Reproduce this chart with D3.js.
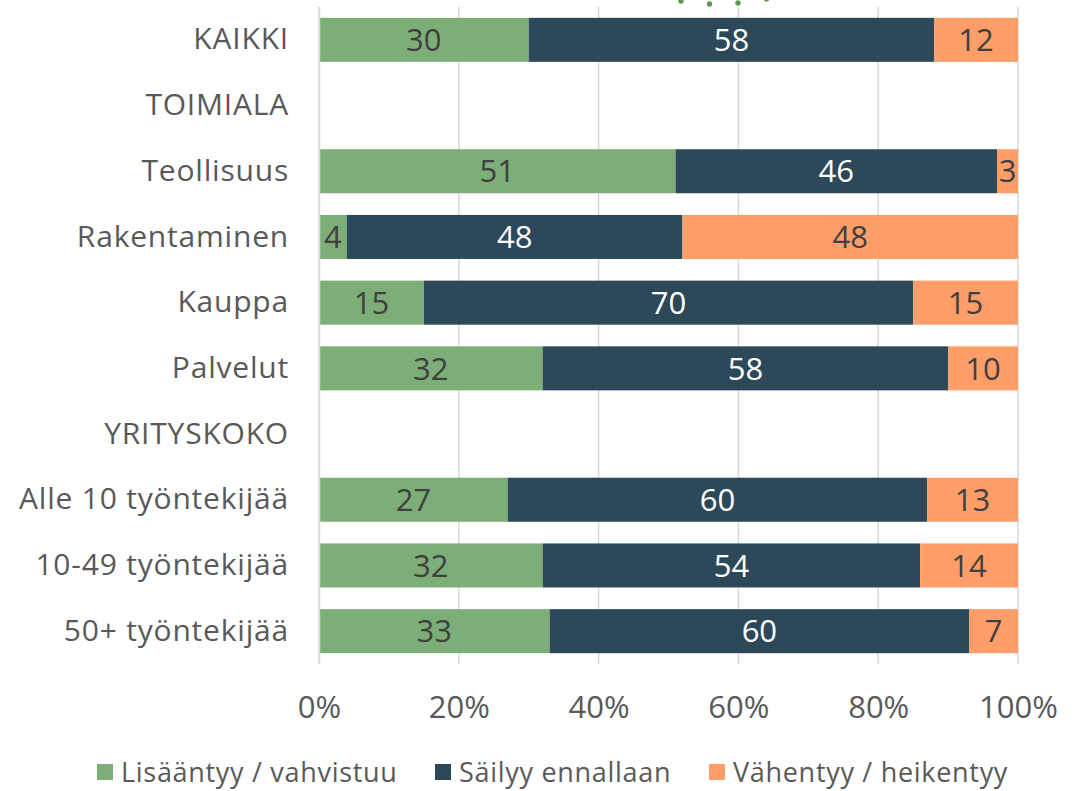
<!DOCTYPE html>
<html>
<head>
<meta charset="utf-8">
<script src="https://cdn.jsdelivr.net/npm/d3@7"></script>
<style>
  body { margin: 0; background: #fff; }
  svg text { font-family: "Open Sans", "Noto Sans", sans-serif; }
</style>
</head>
<body>
<script>
// Data
const categories = ["KAIKKI", "TOIMIALA", "Teollisuus", "Rakentaminen", "Kauppa", "Palvelut",
    "YRITYSKOKO", "Alle 10 työntekijää", "10-49 työntekijää", "50+ työntekijää"];
const seriesNames = ["Lisääntyy / vahvistuu", "Säilyy ennallaan", "Vähentyy / heikentyy"];
const increase = [30, null, 51, 4, 15, 32, null, 27, 32, 33];
const same     = [58, null, 46, 48, 70, 58, null, 60, 54, 60];
const decrease = [12, null, 3, 48, 15, 10, null, 13, 14, 7];
const tickValues = [0, 20, 40, 60, 80, 100];

(function () {
    const W = 1091, H = 791;
    const colors = ["#7dae77", "#2c4859", "#ff9e68"];
    const labelColors = ["#404040", "#ffffff", "#404040"];

    const svg = d3.select("body").append("svg")
        .attr("width", W)
        .attr("height", H);

    const x = d3.scaleLinear().domain([0, 100]).range([319, 1018]);
    const y = d3.scaleBand().domain(categories).range([7, 664]).paddingInner(0.33).paddingOuter(0.165);

    // gridlines
    svg.append("g")
        .selectAll("line")
        .data(tickValues)
        .join("line")
        .attr("x1", d => x(d)).attr("x2", d => x(d))
        .attr("y1", 7).attr("y2", 664)
        .attr("stroke", "#d9d9d9")
        .attr("stroke-width", 1.5);

    // decorative dots at top (cropped artifact in the source)
    svg.append("g")
        .selectAll("circle")
        .data([0, 1, 2, 3])
        .join("circle")
        .attr("cx", d => 681 + d * 28.5)
        .attr("cy", (d, i) => [1, 4, 3, -1][i])
        .attr("r", 2.7)
        .attr("fill", "#5a9a4e");

    // stack the data
    const rows = categories.map((c, i) => ({
        cat: c, s0: increase[i], s1: same[i], s2: decrease[i]
    })).filter(d => d.s0 !== null);
    const stack = d3.stack().keys(["s0", "s1", "s2"]);
    const stacked = stack(rows);

    const layers = svg.append("g")
        .selectAll("g")
        .data(stacked)
        .join("g")
        .attr("fill", (d, i) => colors[i]);

    layers.selectAll("rect")
        .data(d => d)
        .join("rect")
        .attr("x", d => x(d[0]))
        .attr("y", d => y(d.data.cat))
        .attr("width", d => x(d[1]) - x(d[0]))
        .attr("height", y.bandwidth());

    // value labels
    stacked.forEach((layer, i) => {
        svg.append("g")
            .selectAll("text")
            .data(layer)
            .join("text")
            .attr("x", d => (x(d[0]) + x(d[1])) / 2)
            .attr("y", d => y(d.data.cat) + y.bandwidth() / 2)
            .attr("dy", "0.36em")
            .attr("text-anchor", "middle")
            .attr("fill", labelColors[i])
            .style("font-size", "31px")
            .text(d => d[1] - d[0]);
    });

    // category axis
    const yAxis = svg.append("g")
        .attr("transform", "translate(319,0)")
        .call(d3.axisLeft(y).tickSize(0).tickPadding(30));
    yAxis.select(".domain").attr("stroke", "#d9d9d9").attr("stroke-width", 1.5);
    yAxis.selectAll("text")
        .attr("fill", "#595959")
        .style("font-size", "30px")
        .style("letter-spacing", "0.8px");

    // value axis
    const xAxis = svg.append("g")
        .attr("transform", "translate(0,664)")
        .call(d3.axisBottom(x).tickValues(tickValues).tickFormat(d => d + "%").tickSize(0).tickPadding(32));
    xAxis.select(".domain").remove();
    xAxis.selectAll("text")
        .attr("fill", "#595959")
        .style("font-size", "31px");

    // legend
    const legendX = [97, 435, 709];
    const legend = svg.append("g")
        .selectAll("g")
        .data(seriesNames)
        .join("g")
        .attr("transform", (d, i) => `translate(${legendX[i]}, 772)`);
    legend.append("rect")
        .attr("x", 0).attr("y", -8)
        .attr("width", 16).attr("height", 16)
        .attr("fill", (d, i) => colors[i]);
    legend.append("text")
        .attr("x", 24)
        .attr("dy", "0.36em")
        .attr("fill", "#595959")
        .style("font-size", "27px")
        .style("letter-spacing", "0.7px")
        .text(d => d);
})();
</script>
</body>
</html>
